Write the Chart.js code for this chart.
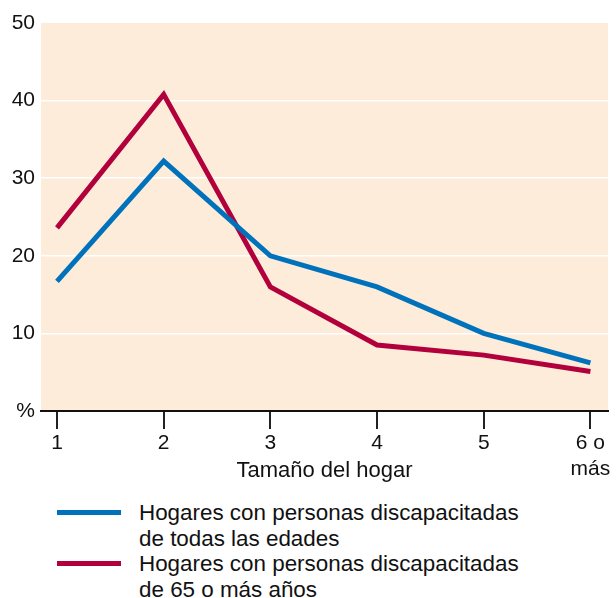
<!DOCTYPE html>
<html>
<head>
<meta charset="utf-8">
<script src="https://cdn.jsdelivr.net/npm/chart.js@4"></script>
<style>
  body { margin: 0; background: #fff; font-family: "Liberation Sans", Arial, sans-serif; }
  #wrap { position: relative; width: 616px; height: 598px; }
  #legend { position: absolute; left: 57px; top: 500px; font-size: 22.4px; color: #111; line-height: 25.7px; }
  .item { display: flex; align-items: flex-start; }
  .swatch { width: 64px; height: 5px; margin-top: 10px; margin-right: 18px; flex: none; }
</style>
</head>
<body>
<div id="wrap">
  <canvas id="chart" width="616" height="490"></canvas>
  <div id="legend"></div>
</div>
<script>
// household size (x positions) and tick labels
const sizes = [1, 2, 3, 4, 5, 6]
const sizeLabels = ['1', '2', '3', '4', '5', ['6 o', 'más']]

// % of households
const allAges = [16.7, 32.2, 20, 16, 10, 6.2]
const over65 = [23.6, 40.8, 16, 8.5, 7.2, 5.1]

const seriesNames = [
  ['Hogares con personas discapacitadas', 'de todas las edades'],
  ['Hogares con personas discapacitadas', 'de 65 o más años']
]
const seriesColors = ['#0072bb', '#b1003b']

const yTicks = [0, 10, 20, 30, 40, 50]

function toPoints(vals) {
  return vals.map((v, i) => ({ x: sizes[i], y: v }))
}

// paint the peach plot background
const plotBg = {
  id: 'plotBg',
  beforeDraw(chart) {
    const a = chart.chartArea
    const ctx = chart.ctx
    ctx.save()
    ctx.fillStyle = '#fdecd9'
    ctx.fillRect(a.left, a.top, a.right - a.left, a.bottom - a.top)
    ctx.restore()
  }
}

const chart = new Chart(document.getElementById('chart'), {
  type: 'line',
  data: {
    datasets: [
      { label: seriesNames[0].join(' '), data: toPoints(allAges), borderColor: seriesColors[0] },
      { label: seriesNames[1].join(' '), data: toPoints(over65), borderColor: seriesColors[1] }
    ]
  },
  options: {
    responsive: false,
    animation: false,
    layout: { padding: { top: 23, right: 8, left: 0, bottom: 0 } },
    elements: {
      line: { borderWidth: 5, tension: 0, borderJoinStyle: 'miter', borderCapStyle: 'butt' },
      point: { radius: 0, hoverRadius: 0 }
    },
    plugins: { legend: { display: false }, tooltip: { enabled: false } },
    scales: {
      x: {
        type: 'linear',
        min: 0.85,
        max: 6.165,
        afterBuildTicks(scale) { scale.ticks = sizes.map(v => ({ value: v })) },
        afterFit(scale) { scale.height = 79 },
        ticks: {
          color: '#111',
          font: { family: 'Liberation Sans', size: 21 },
          padding: 2,
          maxRotation: 0,
          callback: (v) => sizeLabels[sizes.indexOf(v)]
        },
        grid: { drawOnChartArea: false, drawTicks: true, tickLength: 18, color: '#222', lineWidth: 2 },
        border: { display: true, color: '#111', width: 2 },
        title: {
          display: true,
          text: 'Tamaño del hogar',
          color: '#111',
          font: { family: 'Liberation Sans', size: 22 },
          padding: { top: 0, bottom: 6 }
        }
      },
      y: {
        min: 0,
        max: 50,
        afterBuildTicks(scale) { scale.ticks = yTicks.map(v => ({ value: v })) },
        afterFit(scale) { scale.width = 41 },
        ticks: {
          color: '#111',
          font: { family: 'Liberation Sans', size: 21 },
          padding: 6,
          callback: (v) => v === 0 ? '%' : String(v)
        },
        grid: {
          drawTicks: false,
          lineWidth: 1.5,
          color: (c) => (c.tick && (c.tick.value === 0 || c.tick.value === 50)) ? 'rgba(0,0,0,0)' : '#ffffff'
        },
        border: { display: false }
      }
    }
  },
  plugins: [plotBg]
})

// html legend built from the datasets
const legend = document.getElementById('legend')
chart.data.datasets.forEach((ds, i) => {
  const row = document.createElement('div')
  row.className = 'item'
  row.innerHTML = '<div class="swatch" style="background:' + ds.borderColor + '"></div><div>' +
    seriesNames[i].join('<br>') + '</div>'
  legend.appendChild(row)
})
</script>
</body>
</html>
